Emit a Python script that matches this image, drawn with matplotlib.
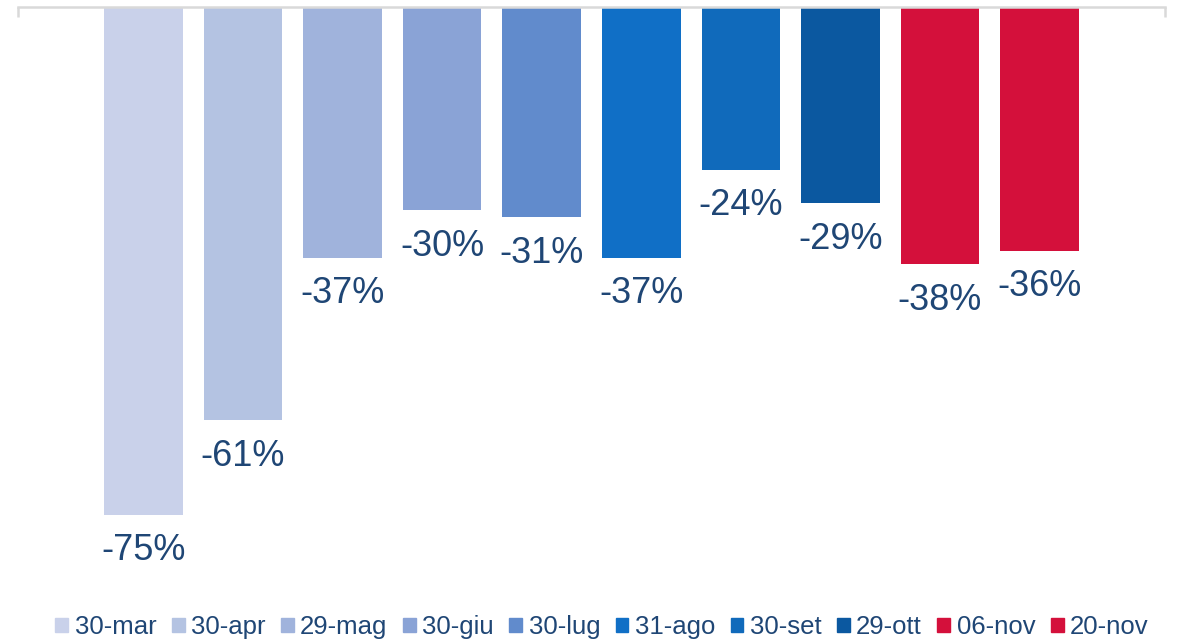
import matplotlib
matplotlib.use("Agg")
import matplotlib.pyplot as plt
import matplotlib.patches as patches

# Data
dates = ["30-mar", "30-apr", "29-mag", "30-giu", "30-lug",
         "31-ago", "30-set", "29-ott", "06-nov", "20-nov"]
changes = [-75, -61, -37, -30, -31, -37, -24, -29, -38, -36]
bar_colors = ["#c9d1ea", "#b4c3e2", "#a0b3dc", "#8aa3d6", "#618bcc",
              "#106fc6", "#106abb", "#0b58a0", "#d4103b", "#d4103b"]

text_color = "#1f4675"
axis_color = "#d9d9d9"

plt.rcParams["font.family"] = ["Liberation Sans", "DejaVu Sans"]

fig = plt.figure(figsize=(11.78, 6.44), dpi=100)
W, H = 1178, 644
ax = fig.add_axes([18 / W, 1 - 590 / H, (1165 - 18) / W, (590 - 7) / H])

xs = list(range(len(dates)))
bars = ax.bar(xs, changes, width=0.79, color=bar_colors, zorder=2)

for x, v in zip(xs, changes):
    ax.annotate(f"{v}%", xy=(x, v), xytext=(0, -26), textcoords="offset points",
                ha="center", va="center", fontsize=26, color=text_color)

ax.set_xlim(-1.26, 10.26)
ax.set_ylim(-86.1, 0)

for side in ["left", "right", "bottom"]:
    ax.spines[side].set_visible(False)
ax.spines["top"].set_color(axis_color)
ax.spines["top"].set_linewidth(1.8)
ax.spines["top"].set_zorder(3)
ax.xaxis.tick_top()
ax.set_xticks([-1.26, 10.26])
ax.set_xticklabels([])
ax.tick_params(axis="x", direction="in", length=7, width=1.8, color=axis_color)
ax.set_yticks([])

handles = [patches.Patch(color=c, label=d) for c, d in zip(bar_colors, dates)]
leg = fig.legend(handles=handles, loc="center", bbox_to_anchor=(602 / W, 1 - 627 / H),
                 ncol=len(dates), frameon=False, fontsize=18.5,
                 handlelength=0.5, handleheight=0.5, handletextpad=0.25,
                 columnspacing=0.6, borderaxespad=0)
for t in leg.get_texts():
    t.set_color(text_color)

fig.savefig("out.png", dpi=100, facecolor="white")
